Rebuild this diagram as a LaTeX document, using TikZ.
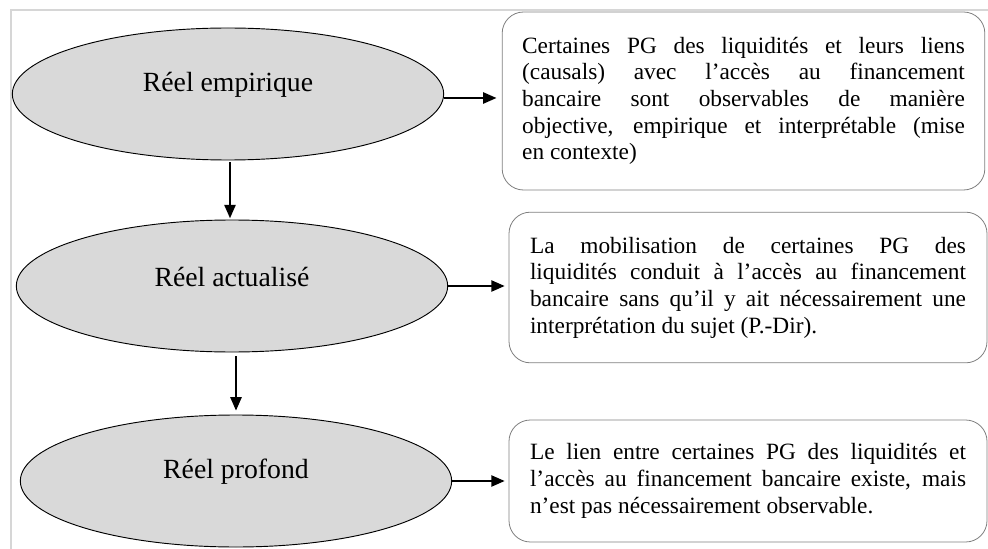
\documentclass[tikz,border=0pt]{standalone}
\usepackage{fontspec}
\setmainfont{Liberation Serif}
\usetikzlibrary{shapes.geometric,arrows.meta}
\definecolor{ellgray}{HTML}{D9D9D9}
\definecolor{boxgray}{HTML}{7F7F7F}
\definecolor{framegray}{HTML}{D6D6D6}
\begin{document}
\begin{tikzpicture}[x=0.75pt,y=-0.75pt,
  ell/.style={ellipse,draw=black,line width=0.7pt,fill=ellgray,minimum width=323.5pt,minimum height=99pt,inner sep=0pt},
  elltext/.style={font=\fontsize{20.8pt}{24pt}\selectfont,inner sep=0pt},
  txtbox/.style={draw=boxgray,line width=0.6pt,rounded corners=16pt,align=justify,
    font=\fontsize{17.5pt}{20pt}\selectfont},
  arr/.style={-{Triangle[length=10pt,width=8.5pt]},line width=1.1pt,black}]
\useasboundingbox (0,0) rectangle (988,549);
\draw[framegray,line width=1.5pt] (988,10) -- (11,10) -- (11,549);

\node[ell] (e1) at (228,94) {};
\node[ell] (e2) at (232,286) {};
\node[ell] (e3) at (236,481) {};
\node[elltext] (t1) at (228,85) {Réel empirique};
\node[elltext] (t2) at (232,277) {Réel actualisé};
\node[elltext] (t3) at (236,472) {Réel profond};

\node[txtbox,text width=332pt,inner xsep=15pt,minimum height=133.5pt] (b1) at (743.5,101)
 {Certaines PG des liquidités et leurs liens\linebreak (causals) avec l’accès au financement\linebreak bancaire sont observables de manière\linebreak objective, empirique et interprétable (mise\linebreak en contexte)};
\node[txtbox,text width=327pt,inner xsep=15.75pt,minimum height=113pt] (b2) at (748,287.5)
 {La mobilisation de certaines PG des\linebreak liquidités conduit à l’accès au financement\linebreak bancaire sans qu’il y ait nécessairement une\linebreak interprétation du sujet (P.-Dir).};
\node[txtbox,text width=327pt,inner xsep=15.75pt,minimum height=91.5pt] (b3) at (748,481)
 {Le lien entre certaines PG des liquidités et\linebreak l’accès au financement bancaire existe, mais\linebreak n’est pas nécessairement observable.};

\draw[arr,shorten >=4pt] ([yshift=-3pt]e1.east) -- ([yshift=-3pt]e1.east -| b1.west);
\draw[arr,shorten >=3pt] (e2.east) -- (e2.east -| b2.west);
\draw[arr,shorten >=3pt] (e3.east) -- (e3.east -| b3.west);
\draw[arr,shorten >=1pt] ([xshift=1.5pt,yshift=-1.5pt]e1.south) -- ([xshift=1.5pt]e1.south |- e2.north);
\draw[arr,shorten >=3pt] ([xshift=3pt,yshift=-3pt]e2.south) -- ([xshift=3pt]e2.south |- e3.north);
\end{tikzpicture}
\end{document}
